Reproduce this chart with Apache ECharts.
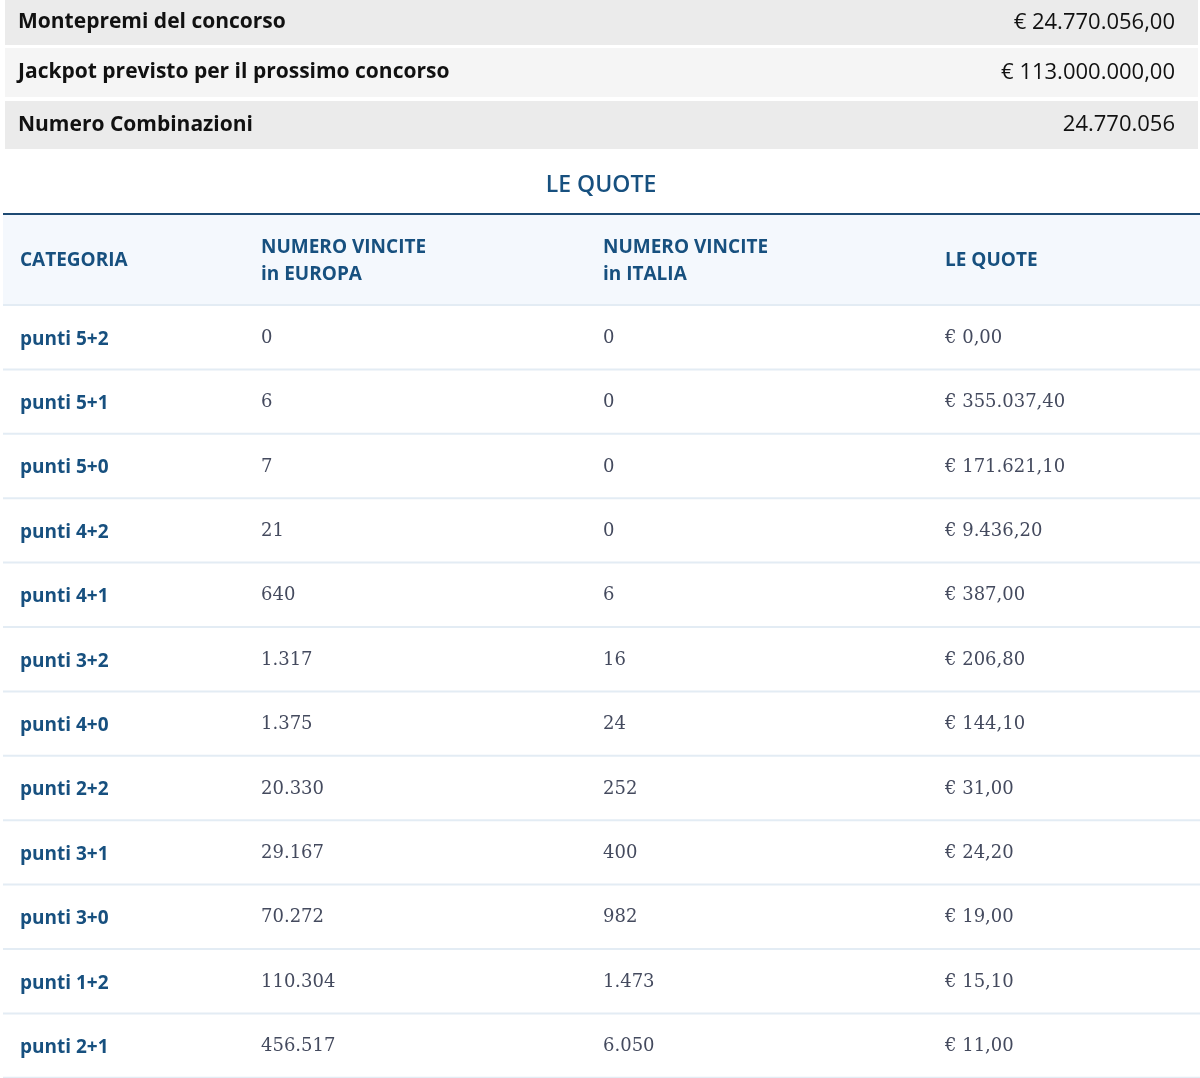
<!DOCTYPE html><html><head><meta charset="utf-8"><script src="https://cdn.jsdelivr.net/npm/echarts@6/dist/echarts.min.js"></script>
<style>html,body{margin:0;padding:0;background:#fff}#c{width:1200px;height:1078px}</style></head><body><div id="c"></div><script>
const summaryLabels=["Montepremi del concorso","Jackpot previsto per il prossimo concorso","Numero Combinazioni"];
const summaryValues=["€ 24.770.056,00","€ 113.000.000,00","24.770.056"];
const title="LE QUOTE";
const headers=[["CATEGORIA"],["NUMERO VINCITE","in EUROPA"],["NUMERO VINCITE","in ITALIA"],["LE QUOTE"]];
const categories=["punti 5+2","punti 5+1","punti 5+0","punti 4+2","punti 4+1","punti 3+2","punti 4+0","punti 2+2","punti 3+1","punti 3+0","punti 1+2","punti 2+1"];
const winsEurope=["0","6","7","21","640","1.317","1.375","20.330","29.167","70.272","110.304","456.517"];
const winsItaly=["0","0","0","0","6","16","24","252","400","982","1.473","6.050"];
const quotes=["€ 0,00","€ 355.037,40","€ 171.621,10","€ 9.436,20","€ 387,00","€ 206,80","€ 144,10","€ 31,00","€ 24,20","€ 19,00","€ 15,10","€ 11,00"];

const SANS='"Open Sans", "Noto Sans", sans-serif', SERIF='"DejaVu Serif", "Liberation Serif", serif';
const blue='#17507f', g=[];
const sumTop=[0,48,101], sumH=[45,49,48], sumBg=['#ebebeb','#f5f5f5','#ebebeb'];
summaryLabels.forEach((l,i)=>{
  g.push({type:'rect',shape:{x:5,y:sumTop[i],width:1193,height:sumH[i]},style:{fill:sumBg[i]}});
  const cy=sumTop[i]+sumH[i]/2;
  g.push({type:'text',x:18,y:cy,style:{text:l,font:'bold 21px '+SANS,fill:'#111',verticalAlign:'middle'}});
  g.push({type:'text',x:1175,y:cy,style:{text:summaryValues[i],font:'22px '+SANS,fill:'#111',align:'right',verticalAlign:'middle'}});
});
g.push({type:'text',x:601,y:185,style:{text:title,font:'600 23px '+SANS,fill:blue,align:'center',verticalAlign:'middle'}});
g.push({type:'rect',shape:{x:3,y:215,width:1197,height:89},style:{fill:'#f4f8fd'}});
g.push({type:'line',shape:{x1:3,y1:214,x2:1200,y2:214},style:{stroke:'#1d4a73',lineWidth:2}});
const colX=[20,261,603,945];
headers.forEach((h,j)=>{
  g.push({type:'text',x:colX[j],y:261,style:{text:h.join('\n'),font:'bold 19px '+SANS,lineHeight:27,fill:blue,verticalAlign:'middle'}});
});
const rowTop=305, rowH=64.4;
g.push({type:'line',shape:{x1:3,y1:rowTop,x2:1200,y2:rowTop},style:{stroke:'#e3ecf4',lineWidth:2}});
categories.forEach((c,i)=>{
  const cy=rowTop+rowH*i+rowH/2;
  g.push({type:'line',shape:{x1:3,y1:rowTop+rowH*(i+1),x2:1200,y2:rowTop+rowH*(i+1)},style:{stroke:'#e3ecf4',lineWidth:2}});
  g.push({type:'text',x:colX[0],y:cy+2,style:{text:c,font:'bold 19px '+SANS,fill:blue,verticalAlign:'middle'}});
  [winsEurope[i],winsItaly[i],quotes[i]].forEach((v,k)=>{
    g.push({type:'text',x:colX[k+1],y:cy+1,style:{text:v,font:'18px '+SERIF,fill:'#444a5e',verticalAlign:'middle'}});
  });
});
const ch=echarts.init(document.getElementById('c'));
ch.setOption({animation:false,graphic:{elements:g}});
</script></body></html>
